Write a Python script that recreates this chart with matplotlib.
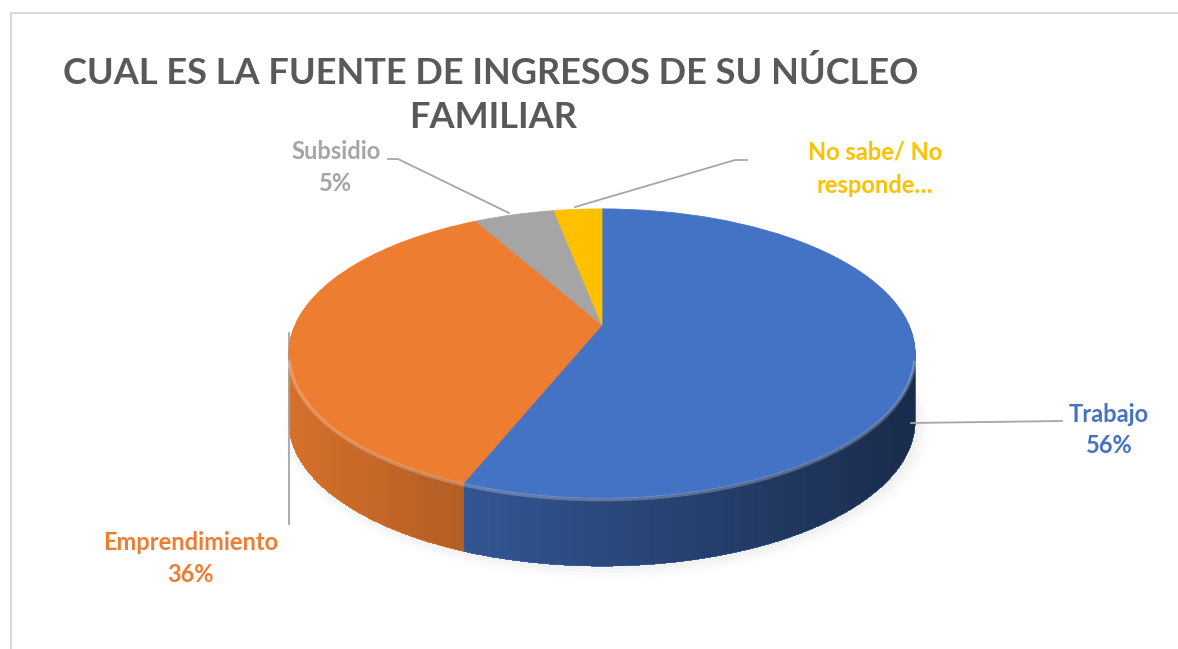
import numpy as np
import matplotlib
matplotlib.use("Agg")
import matplotlib.pyplot as plt
import matplotlib.transforms as mtransforms
from matplotlib.path import Path
from matplotlib.patches import PathPatch, Rectangle

# datos
categorias = ['Trabajo', 'Emprendimiento', 'Subsidio', 'No sabe/ No\nresponde…']
valores = [56, 36, 5, 3]
etiquetas_pct = ['56%', '36%', '5%', '']
colores = ['#4472C4', '#ED7D31', '#A5A5A5', '#FFC000']

W, H = 1178, 649
fig = plt.figure(figsize=(W / 100, H / 100), dpi=100)
ax = fig.add_axes([0, 0, 1, 1])

# perspectiva del pastel 3D (coordenadas en pixeles, y hacia arriba)
CX, CY = 602, H - 325
K, C, D = 0.197, 139.0, 307.0
PROF = 68


class Persp(mtransforms.Transform):
    input_dims = output_dims = 2

    def __init__(self, dy=0.0):
        super().__init__()
        self.dy = dy

    def transform_non_affine(self, v):
        v = np.asarray(v, dtype=float)
        w = 1 + K * v[:, 1]
        return np.column_stack([CX + D * v[:, 0] / w, CY - self.dy + C * v[:, 1] / w])


# sombra suave
t = np.linspace(0, 2 * np.pi, 200)
circ = np.column_stack([np.cos(t), np.sin(t)])
for i, a in enumerate([0.025, 0.025, 0.03, 0.03]):
    pts = Persp(PROF + 6 - i).transform(circ * (1.03 - 0.01 * i))
    ax.add_patch(PathPatch(Path(pts + [4, 0]), fc='#808080', ec='none', alpha=a))

# costado (capas)
for dy in range(PROF, 0, -1):
    cuñas, _ = ax.pie(valores, colors=colores, startangle=90, counterclock=False,
                      wedgeprops=dict(linewidth=0, antialiased=False))
    for w in cuñas:
        w.set_transform(Persp(dy) + ax.transData)

# degradado oscuro del costado
t_izq = np.pi + np.arcsin(K)
t_der = -np.arcsin(K)
ta = np.linspace(t_izq, 2 * np.pi + t_der, 150)
abajo = Persp(PROF).transform(np.column_stack([np.cos(ta), np.sin(ta)]))
arriba = Persp(0).transform(np.column_stack([np.cos(ta[::-1]), np.sin(ta[::-1])]))
silueta = Path(np.vstack([abajo, arriba, abajo[:1]]), closed=True)
grad = np.zeros((1, 256, 4))
grad[0, :, 3] = np.linspace(0.10, 0.62, 256)
img = ax.imshow(grad, extent=(288, 916, H - 580, H - 200), aspect='auto',
                interpolation='bilinear', zorder=2)
img.set_clip_path(PathPatch(silueta, transform=ax.transData))

# cara superior
cuñas, _ = ax.pie(valores, colors=colores, startangle=90, counterclock=False,
                  wedgeprops=dict(linewidth=0.5))
for w, c in zip(cuñas, colores):
    w.set_edgecolor(c)
    w.set_transform(Persp(0) + ax.transData)
    w.set_zorder(3)

# brillo del borde
tt = np.linspace(t_izq + 0.05, 2 * np.pi + t_der - 0.05, 150)
borde = Persp(1.5).transform(np.column_stack([np.cos(tt), np.sin(tt)]))
ax.plot(borde[:, 0], borde[:, 1], color='white', alpha=0.25, lw=2.5, zorder=4)

ax.set_xlim(0, W)
ax.set_ylim(0, H)
ax.set_aspect('auto')
ax.axis('off')

# marco
fig.patches.append(Rectangle((11 / W, -0.1), 1.2, 1 - 13 / H + 0.1, transform=fig.transFigure,
                             fill=False, ec='#D9D9D9', lw=1.5))

# titulo
fuente = 'Lato'
ax.text(491, H - 84, 'CUAL ES LA FUENTE DE INGRESOS DE SU NÚCLEO', ha='center', va='baseline',
        fontsize=26, fontweight='bold', color='#595959', family=fuente)
ax.text(493, H - 128, 'FAMILIAR', ha='center', va='baseline',
        fontsize=26, fontweight='bold', color='#595959', family=fuente)

# lineas guia
gris = '#A6A6A6'
ax.plot([388, 398, 509], [H - 159, H - 159, H - 213], color=gris, lw=1.3)
ax.plot([747, 735, 575], [H - 160, H - 160, H - 207], color=gris, lw=1.3)
ax.plot([911, 1062], [H - 423, H - 421], color=gris, lw=1.3)
ax.plot([289, 289], [H - 333, H - 524], color=gris, lw=1.3)

# etiquetas
pos = [(1109, 422, 453), (191, 550, 582), (336, 159, 191), (875, 159, 193)]
for nombre, pct, col, (x, y1, y2) in zip(categorias, etiquetas_pct, colores, pos):
    lineas = nombre.split('\n') if '\n' in nombre else [nombre, pct]
    ax.text(x, H - y1, lineas[0], ha='center', va='baseline', fontsize=17,
            fontweight='bold', color=col, family=fuente)
    ax.text(x, H - y2, lineas[1], ha='center', va='baseline', fontsize=17,
            fontweight='bold', color=col, family=fuente)

fig.savefig('out.png', dpi=100)
